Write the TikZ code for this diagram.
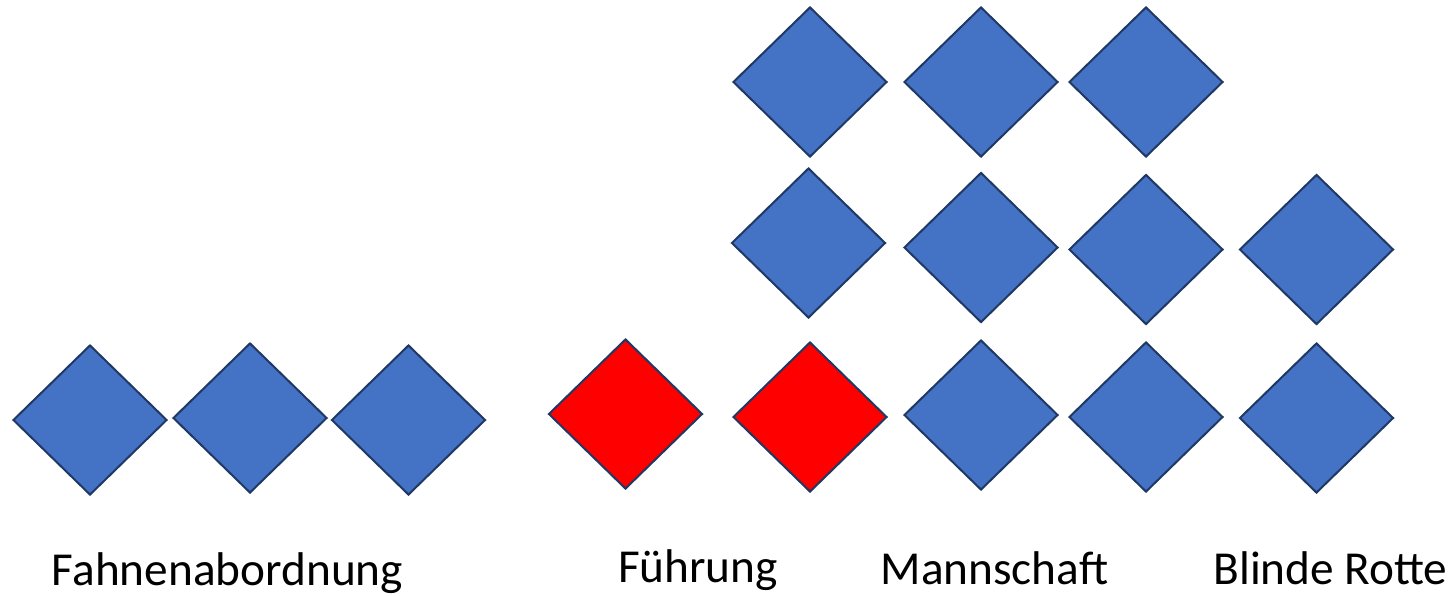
\documentclass[tikz,border=0pt]{standalone}
\usepackage{fontspec}
\setmainfont{Carlito}
\usetikzlibrary{shapes.geometric}
\definecolor{bluefill}{HTML}{4472C4}
\definecolor{edgecol}{HTML}{1F3864}
\definecolor{redfill}{HTML}{FF0000}
\tikzset{
  rhomb/.style={diamond, draw=edgecol, line width=2pt, fill=bluefill, minimum width=154pt, minimum height=150pt, inner sep=0pt, aspect=1},
  redrhomb/.style={rhomb, fill=redfill},
  lbl/.style={anchor=base, inner sep=0pt, font=\fontsize{47.3}{50}\selectfont}
}
\begin{document}
\begin{tikzpicture}[x=1pt,y=-1pt]
\useasboundingbox (0,0) rectangle (1456,595);
% Fahnenabordnung
\node[rhomb] (f1) at (90,420) {};
\node[rhomb] (f2) at (250,418) {};
\node[rhomb] (f3) at (408.5,420) {};
% Fuehrung
\node[redrhomb] (r1) at (625.5,414) {};
\node[redrhomb] (r2) at (810,417) {};
% Mannschaft
\node[rhomb] (m11) at (810,82) {};
\node[rhomb] (m12) at (981,82) {};
\node[rhomb] (m13) at (1146,82) {};
\node[rhomb] (m21) at (808.5,243) {};
\node[rhomb] (m22) at (981,247.5) {};
\node[rhomb] (m23) at (1146,249.5) {};
\node[rhomb] (m31) at (981,415) {};
\node[rhomb] (m32) at (1146,417) {};
% Blinde Rotte
\node[rhomb] (b1) at (1316.5,249.5) {};
\node[rhomb] (b2) at (1316.5,418) {};
% Labels
\node[lbl] (t1) at (227.5,585) {Fahnenabordnung};
\node[lbl] (t2) at (698,582) {Führung};
\node[lbl] (t3) at (994.5,584) {Mannschaft};
\node[lbl] (t4) at (1330.5,584) {Blinde Rotte};
\end{tikzpicture}
\end{document}
